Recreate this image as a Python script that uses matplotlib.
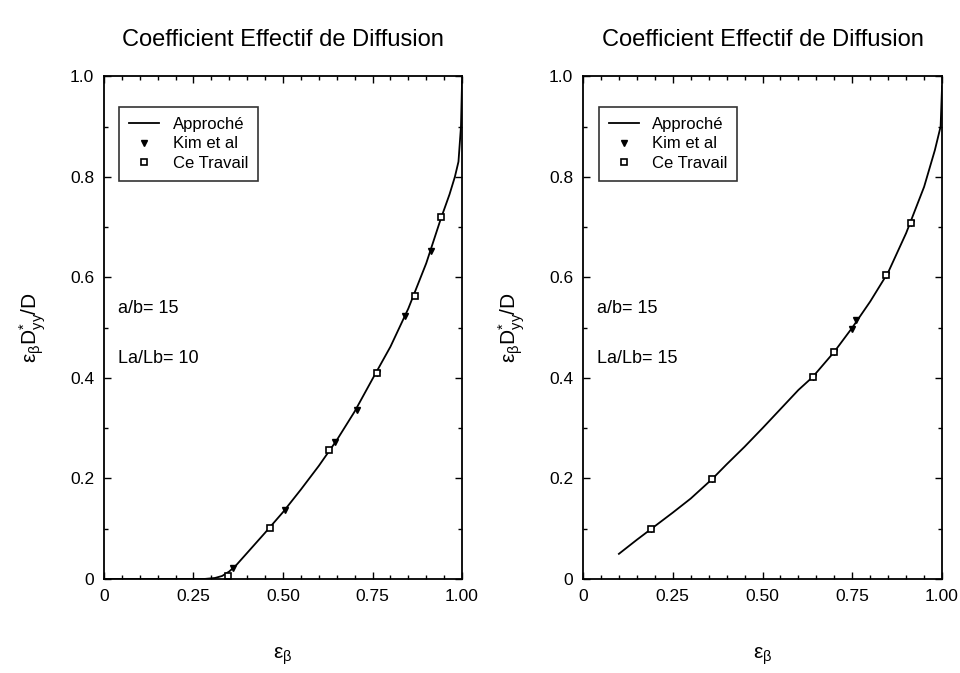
import matplotlib
matplotlib.use("Agg")
import matplotlib.pyplot as plt
import numpy as np
from matplotlib.ticker import MultipleLocator, FixedLocator, FixedFormatter

plt.rcParams['font.family'] = ['Liberation Sans', 'DejaVu Sans']
plt.rcParams['mathtext.fontset'] = 'dejavusans'
plt.rcParams['mathtext.default'] = 'regular'

title = "Coefficient Effectif de Diffusion"
legend_labels = ["Approché", "Kim et al", "Ce Travail"]

# Left panel: a/b=15, La/Lb=10
left_curve_x = [0.0, 0.10, 0.20, 0.28, 0.31, 0.33, 0.35, 0.37, 0.40, 0.45, 0.50, 0.55, 0.60, 0.65, 0.70, 0.75, 0.80, 0.85, 0.90, 0.94, 0.965, 0.98, 0.99, 0.997, 1.0]
left_curve_y = [0.0, 0.0, 0.0, 0.0, 0.002, 0.006, 0.015, 0.028, 0.052, 0.092, 0.133, 0.178, 0.225, 0.276, 0.333, 0.398, 0.462, 0.538, 0.628, 0.715, 0.765, 0.800, 0.830, 0.900, 0.990]
left_kim_x = [0.361, 0.506, 0.645, 0.706, 0.762, 0.841, 0.913]
left_kim_y = [0.021, 0.137, 0.272, 0.337, 0.409, 0.523, 0.652]
left_ce_x = [0.345, 0.464, 0.629, 0.762, 0.869, 0.941]
left_ce_y = [0.005, 0.101, 0.256, 0.409, 0.563, 0.720]

# Right panel: a/b=15, La/Lb=15
right_curve_x = [0.10, 0.15, 0.20, 0.25, 0.30, 0.36, 0.40, 0.45, 0.50, 0.55, 0.60, 0.64, 0.70, 0.75, 0.80, 0.85, 0.90, 0.95, 0.98, 0.996, 1.0]
right_curve_y = [0.050, 0.078, 0.105, 0.132, 0.160, 0.199, 0.228, 0.263, 0.300, 0.338, 0.376, 0.402, 0.452, 0.500, 0.552, 0.610, 0.688, 0.780, 0.853, 0.900, 0.980]
right_kim_x = [0.19, 0.359, 0.641, 0.70, 0.748, 0.760, 0.844, 0.914]
right_kim_y = [0.099, 0.199, 0.402, 0.452, 0.498, 0.515, 0.604, 0.709]
right_ce_x = [0.19, 0.359, 0.641, 0.70, 0.844, 0.914]
right_ce_y = [0.099, 0.199, 0.402, 0.452, 0.604, 0.709]

panels = [
    dict(rect=[0.1083, 0.1397, 0.373, 0.747], cx=left_curve_x, cy=left_curve_y,
         kx=left_kim_x, ky=left_kim_y, sx=left_ce_x, sy=left_ce_y,
         t1="a/b= 15", t2="La/Lb= 10"),
    dict(rect=[0.6073, 0.1397, 0.374, 0.747], cx=right_curve_x, cy=right_curve_y,
         kx=right_kim_x, ky=right_kim_y, sx=right_ce_x, sy=right_ce_y,
         t1="a/b= 15", t2="La/Lb= 15"),
]

fig = plt.figure(figsize=(9.6, 6.73), dpi=100)

for p in panels:
    ax = fig.add_axes(p['rect'])
    l1, = ax.plot(p['cx'], p['cy'], color='black', lw=1.3)
    l2, = ax.plot(p['kx'], p['ky'], linestyle='none', marker='v', color='black', ms=4.5)
    l3, = ax.plot(p['sx'], p['sy'], linestyle='none', marker='s', mfc='white', mec='black', mew=1.2, ms=4)
    ax.set_xlim(0, 1)
    ax.set_ylim(0, 1)
    ax.xaxis.set_major_locator(FixedLocator([0, 0.25, 0.5, 0.75, 1.0]))
    ax.xaxis.set_major_formatter(FixedFormatter(["0", "0.25", "0.50", "0.75", "1.00"]))
    ax.xaxis.set_minor_locator(MultipleLocator(0.05))
    ax.yaxis.set_major_locator(FixedLocator([0, 0.2, 0.4, 0.6, 0.8, 1.0]))
    ax.yaxis.set_major_formatter(FixedFormatter(["0", "0.2", "0.4", "0.6", "0.8", "1.0"]))
    ax.yaxis.set_minor_locator(MultipleLocator(0.1))
    ax.tick_params(which='both', direction='in', top=True, right=True, labelsize=12.5, width=1.0, pad=7)
    ax.tick_params(which='major', length=5)
    ax.tick_params(which='minor', length=3)
    for s in ax.spines.values():
        s.set_linewidth(1.3)
    ax.set_title(title, fontsize=17, pad=22)
    ax.set_xlabel(r'$\varepsilon_\beta$', fontsize=15, labelpad=30)
    ax.set_ylabel(r'$\varepsilon_\beta D^{*}_{yy}/D$', fontsize=15, labelpad=16)
    ax.text(0.04, 0.53, p['t1'], transform=ax.transAxes, fontsize=13)
    ax.text(0.04, 0.43, p['t2'], transform=ax.transAxes, fontsize=13)
    leg = ax.legend([l1, l2, l3], legend_labels, loc='upper left', bbox_to_anchor=(0.02, 0.955),
                    fontsize=12, frameon=True, fancybox=False, edgecolor='black',
                    handlelength=1.8, borderpad=0.6, labelspacing=0.25, markerscale=1.0)
    leg.get_frame().set_linewidth(1.2)

fig.savefig("out.png", dpi=100)
